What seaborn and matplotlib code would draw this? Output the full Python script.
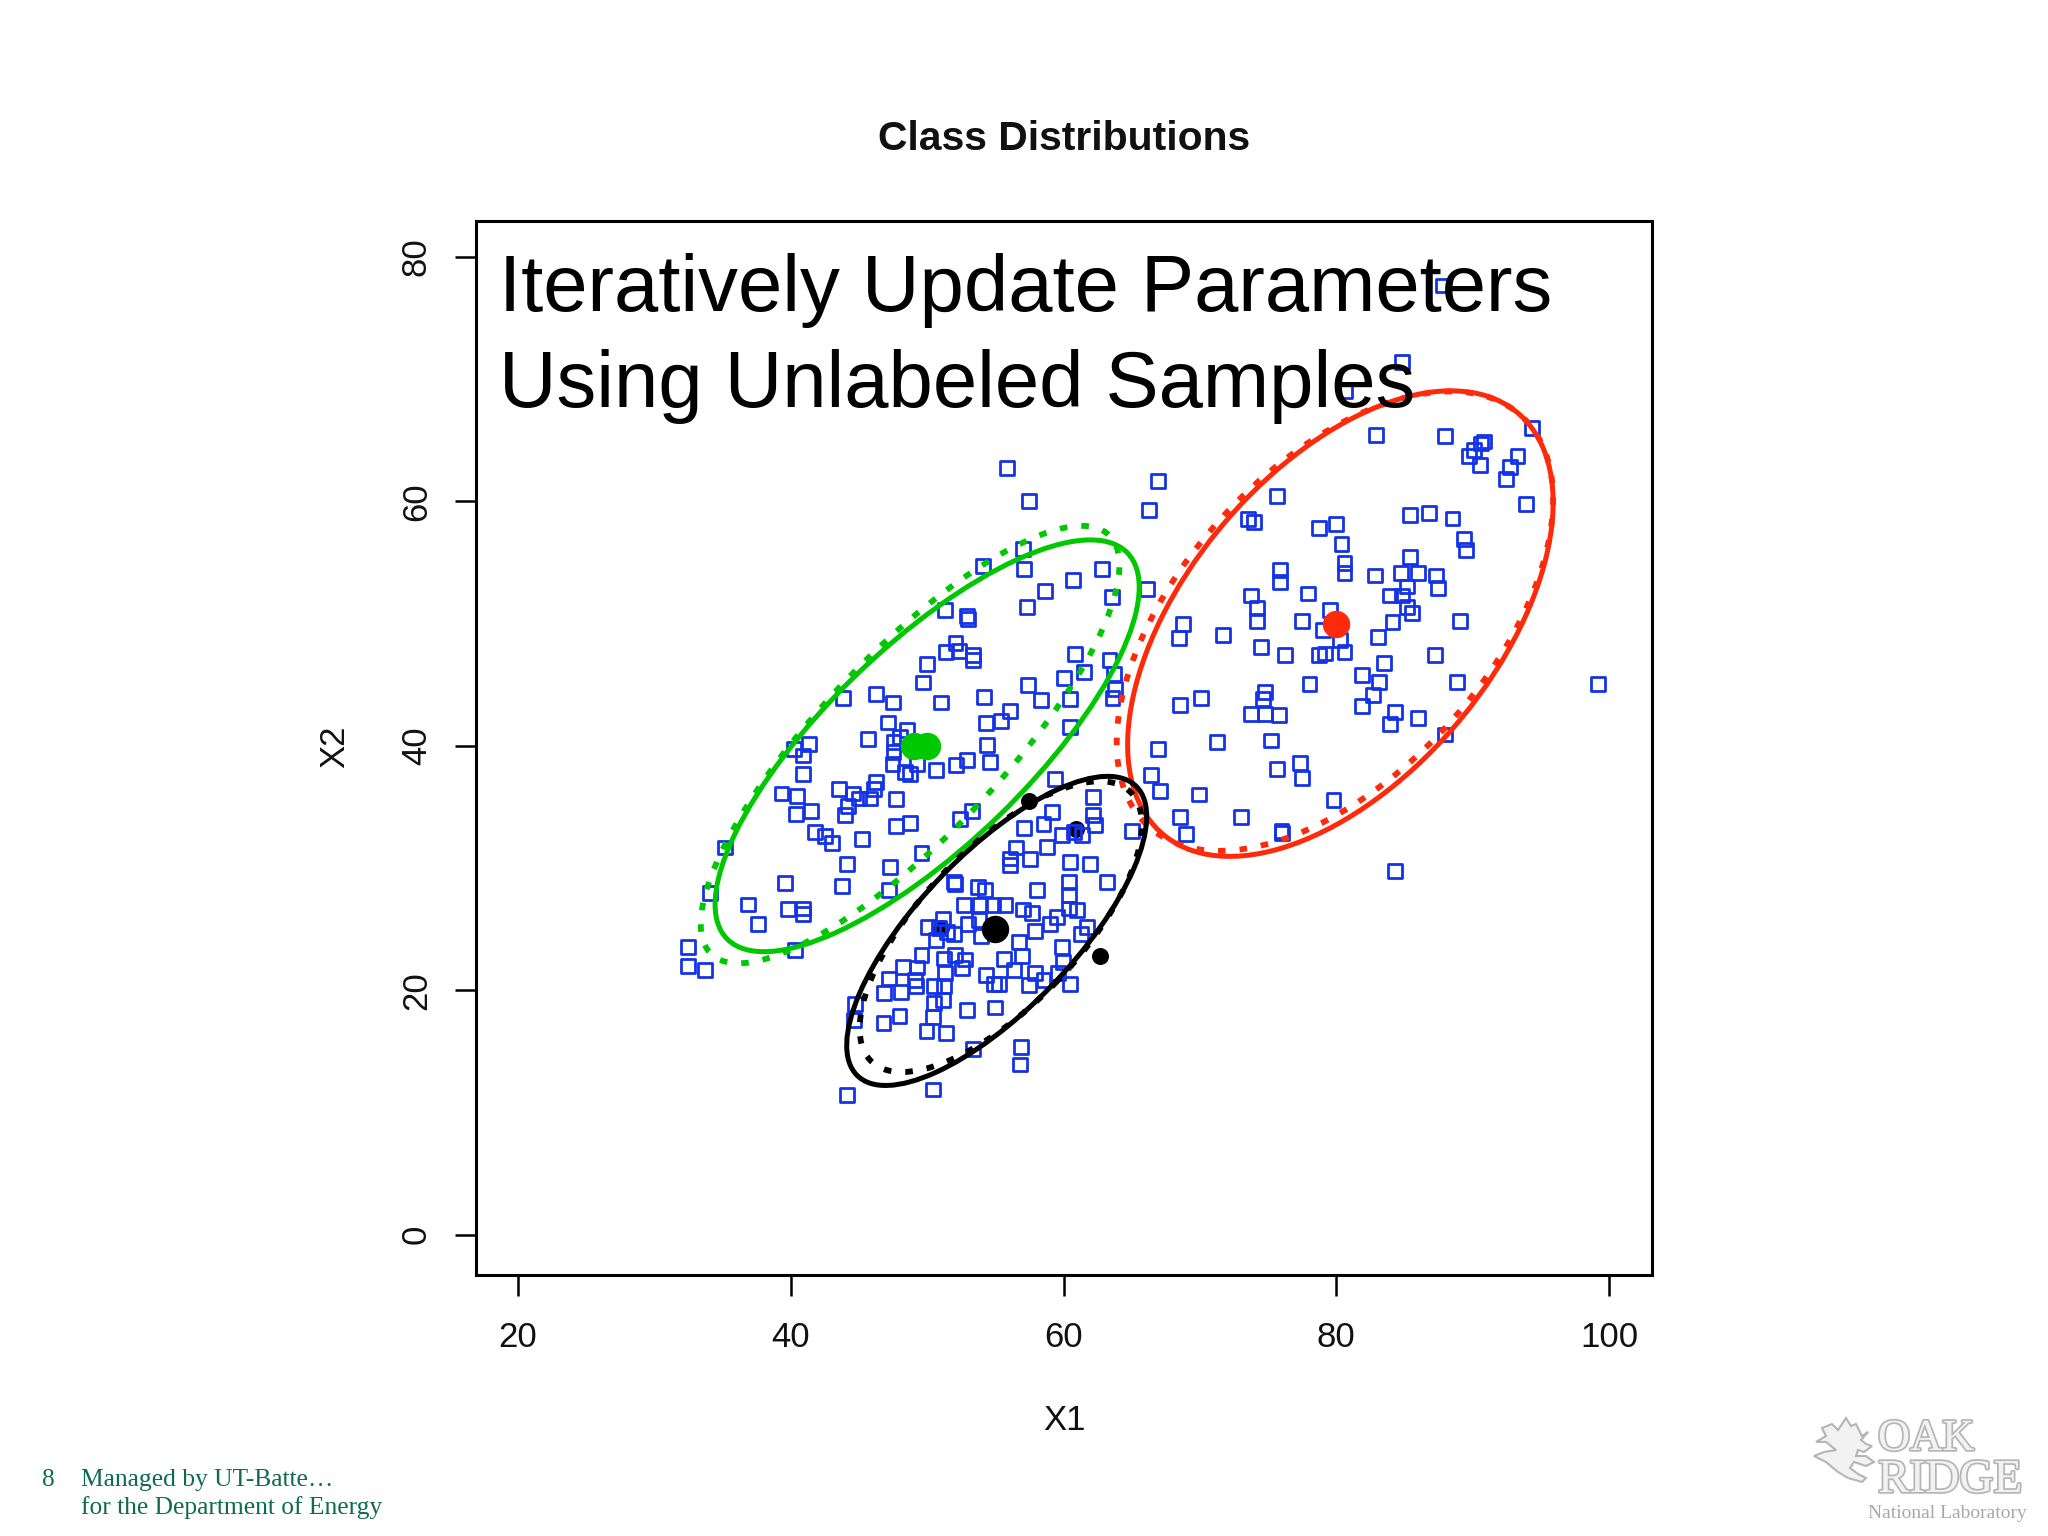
import matplotlib

matplotlib.use("Agg")
import matplotlib.patheffects as pe
import matplotlib.pyplot as plt
import matplotlib.transforms as transforms
import numpy as np
import seaborn as sns
from matplotlib.patches import Ellipse, Polygon

# unlabeled samples
sample_x = [
    55.86, 57.5, 66.91, 66.28, 57.0, 57.12, 54.07, 62.84, 60.68, 58.65, 63.56, 66.11, 57.32, 51.28, 52.93, 53.02,
    52.08, 51.4, 52.32, 53.34, 53.34, 49.98, 49.69, 60.87, 61.53, 63.37, 63.71, 60.01, 57.37, 58.36, 60.46, 63.78,
    63.59, 54.16, 51.04, 47.48, 46.27, 43.8, 56.1, 55.43, 54.31, 60.46, 47.12, 48.55, 45.64, 47.53, 48.01, 47.53,
    40.22, 41.31, 40.87, 54.36, 54.6, 52.9, 52.1, 50.65, 47.46, 48.38, 48.74, 49.23, 40.87, 66.91, 66.4, 67.08,
    59.4, 46.27, 46.08, 43.54, 44.58, 45.02, 45.78, 47.72, 44.17, 43.97, 39.32, 40.46, 40.41, 41.48, 41.79, 42.52,
    43.0, 45.23, 35.2, 47.72, 48.74, 53.32, 52.42, 49.59,
    44.14, 47.29, 39.56, 43.73, 47.21, 34.07, 36.89, 37.62, 39.8, 40.87, 40.87, 40.34, 32.49, 32.49, 33.7,
    62.13, 62.13, 62.33, 59.18, 58.53, 57.07, 59.86, 60.75, 61.36, 65.0, 58.77, 56.52, 57.51, 56.1, 56.1, 60.46,
    61.91, 63.17, 60.39, 60.39, 51.98, 52.05, 53.75, 54.24, 58.04, 52.71, 53.87, 54.84, 55.74, 57.0, 57.68, 60.39,
    60.99, 59.5, 59.01, 51.16, 53.02, 53.8, 50.08, 50.84, 51.45, 51.98, 57.92, 61.72, 61.28, 53.95, 50.65, 56.71,
    59.91, 49.59, 51.21, 52.05, 52.78, 55.62, 56.95, 59.98, 48.26, 49.23, 51.33, 52.54, 54.31, 56.35, 57.92, 59.62,
    47.2, 49.11, 54.91, 55.26, 57.49, 58.53, 60.46, 46.85, 48.06, 49.18, 50.48, 51.21, 51.16, 50.48, 44.7, 44.65,
    52.9, 54.96, 47.97, 46.8, 50.43, 49.95, 51.4, 53.34, 56.88, 56.78, 44.14, 50.43,
    87.84, 84.82, 80.68, 82.89, 87.96, 94.32, 90.85, 90.6, 90.1, 89.72, 90.55, 93.29, 92.74, 92.44, 93.92, 75.65,
    73.52, 73.94, 85.38, 86.83, 88.52, 89.35, 89.52, 78.74, 79.97, 80.38, 80.6, 80.6, 75.85, 75.85, 85.4, 82.81,
    84.75, 86.0, 87.29, 87.46, 85.2, 83.94, 84.82, 77.91, 73.77, 74.2, 74.2, 85.2, 85.58, 79.55, 77.49, 84.12,
    89.1, 79.05, 83.07, 80.3, 68.79, 68.49, 71.68, 74.47, 76.23, 78.74, 79.17, 80.6, 83.52, 87.26, 81.88, 83.12,
    88.84, 82.69, 78.04, 99.2, 74.77, 74.6, 70.05, 68.54, 81.88, 84.32, 83.94, 86.0, 73.77, 74.77, 75.83, 75.2,
    71.26, 87.96, 75.65, 77.36, 77.49, 69.92, 79.8, 68.57, 69.0, 73.02, 75.98, 76.03, 84.32,
]
sample_y = [
    62.76, 60.05, 61.68, 59.33, 56.14, 54.46, 54.7, 54.49, 53.57, 52.67, 52.16, 52.86, 51.37, 51.13, 50.64, 50.4,
    48.43, 47.64, 47.75, 47.42, 47.02, 46.69, 45.18, 47.51, 46.07, 47.02, 45.85, 45.53, 44.99, 43.78, 43.86, 44.68,
    43.92, 44.0, 43.54, 43.54, 44.22, 43.92, 42.86, 42.05, 41.89, 41.56, 41.91, 41.29, 40.53, 40.34, 40.75, 39.48,
    39.75, 40.15, 39.21, 40.07, 38.64, 38.86, 38.4, 38.05, 38.53, 37.86, 37.72, 38.53, 37.72, 39.75, 37.59, 36.31,
    37.26, 37.04, 36.5, 36.5, 36.1, 35.69, 35.69, 35.61, 35.07, 34.31, 36.1, 35.88, 34.44, 34.66, 32.95, 32.6,
    32.01, 32.36, 31.68, 33.44, 33.71, 34.63, 33.98, 31.19,
    30.29, 30.05, 28.77, 28.49, 28.17, 27.95, 27.01, 25.41, 26.63, 26.68, 26.27, 23.27, 23.54, 21.97, 21.64,
    35.82, 34.3, 33.49, 34.57, 33.63, 33.27, 32.68, 32.95, 32.68, 33.03, 31.73, 31.68, 30.7, 30.78, 30.24, 30.51,
    30.29, 28.85, 28.85, 27.76, 28.85, 28.66, 28.44, 28.22, 28.17, 26.95, 26.95, 26.95, 26.95, 26.6, 26.33, 26.68,
    26.54, 26.0, 25.41, 25.87, 25.41, 25.73, 25.19, 25.06, 24.75, 24.62, 24.87, 25.19, 24.62, 24.4, 24.08, 23.94,
    23.54, 22.86, 22.59, 22.86, 22.51, 22.53, 22.8, 22.32, 21.91, 21.86, 21.37, 21.78, 21.23, 21.64, 21.37, 21.37,
    20.96, 20.83, 20.5, 20.5, 20.42, 20.83, 20.5, 19.8, 19.88, 20.34, 20.34, 20.34, 19.17, 18.96, 18.85, 17.55,
    18.36, 18.58, 17.9, 17.33, 17.82, 16.66, 16.52, 15.17, 15.33, 13.92, 11.41, 11.87,
    77.67, 71.4, 69.04, 65.45, 65.32, 66.04, 64.9, 64.74, 64.19, 63.71, 62.99, 63.71, 62.8, 61.83, 59.76, 60.47,
    58.53, 58.3, 58.92, 59.08, 58.6, 56.92, 56.01, 57.79, 58.15, 56.49, 54.98, 54.11, 54.39, 53.43, 55.46, 53.94,
    54.17, 54.17, 53.94, 52.94, 53.04, 52.3, 52.3, 52.46, 52.3, 51.26, 50.23, 51.36, 50.85, 51.1, 50.23, 50.13,
    50.23, 49.47, 48.91, 48.65, 49.97, 48.82, 49.05, 48.09, 47.45, 47.45, 47.55, 47.65, 46.74, 47.45, 45.83, 45.21,
    45.21, 44.15, 45.09, 45.09, 44.41, 43.83, 43.93, 43.34, 43.25, 42.79, 41.82, 42.28, 42.63, 42.63, 42.53, 40.43,
    40.33, 40.92, 38.07, 38.59, 37.33, 36.01, 35.59, 34.19, 32.77, 34.19, 33.0, 32.83, 29.77,
]

# class means
mean_x = [80, 49, 50, 55]
mean_y = [50, 40, 40, 25]
mean_colors = ["#ff2a0a", "#00c800", "#00c800", "#000000"]

# labeled black points under the squares
labeled_x = [62.7, 60.9, 51.0, 57.5]
labeled_y = [22.8, 33.2, 25.1, 35.5]

# ellipses: center x, center y, half extent x, half extent y, correlation
class_colors = ["#ff2a0a", "#00c800", "#000000"]
solid_cx = [80.3, 50.0, 55.1]
solid_cy = [50.0, 40.0, 24.85]
solid_ax = [15.6, 15.55, 11.0]
solid_ay = [19.05, 16.85, 12.65]
solid_rho = [0.52, 0.77, 0.74]
dotted_cx = [79.9, 48.75, 55.4]
dotted_cy = [50.2, 40.1, 25.2]
dotted_ax = [16.0, 15.35, 10.35]
dotted_ay = [18.8, 17.9, 11.9]
dotted_rho = [0.53, 0.82, 0.70]

x_ticks = [20, 40, 60, 80, 100]
y_ticks = [0, 20, 40, 60, 80]

leaf_x = [1822, 1832, 1838, 1846, 1851, 1856, 1862, 1868, 1861, 1866, 1872, 1864, 1858, 1856, 1866, 1874, 1866,
          1854, 1850, 1858, 1866, 1862, 1848, 1838, 1826, 1814, 1824, 1836, 1826, 1816, 1826]
leaf_y = [1428, 1424, 1430, 1418, 1426, 1424, 1436, 1432, 1440, 1444, 1446, 1452, 1450, 1456, 1456, 1462, 1466,
          1462, 1468, 1474, 1478, 1482, 1478, 1472, 1462, 1456, 1452, 1450, 1442, 1442, 1436]

W, H = 2048, 1536


def add_cov_ellipse(ax, cx, cy, a, b, rho, **kw):
    # unit ellipse of the correlation, stretched to the class extents
    ell = Ellipse((0, 0), 2 * np.sqrt(1 + rho), 2 * np.sqrt(1 - rho), fill=False, **kw)
    tr = transforms.Affine2D().rotate_deg(45).scale(a, b).translate(cx, cy)
    ell.set_transform(tr + ax.transData)
    ax.add_patch(ell)


def fx(px):
    return px / W


def fy(py):
    return 1 - py / H


sns.set_theme(style="white")
plt.rcParams["font.family"] = ["Liberation Sans", "DejaVu Sans"]

fig = plt.figure(figsize=(20.48, 15.36), dpi=100, facecolor="white")
ax = fig.add_axes([fx(476), fy(1275), 1176 / W, 1054.5 / H])

sns.scatterplot(x=labeled_x, y=labeled_y, color="black", s=150, linewidth=0, ax=ax, zorder=2)
sns.scatterplot(
    x=sample_x, y=sample_y, marker="s", s=100, facecolor="none", edgecolor="#1433e6", linewidth=2.0, ax=ax, zorder=3,
)
for i, col in enumerate(class_colors):
    add_cov_ellipse(ax, solid_cx[i], solid_cy[i], solid_ax[i], solid_ay[i], solid_rho[i],
                    edgecolor=col, linewidth=3.6, zorder=4)
    add_cov_ellipse(ax, dotted_cx[i], dotted_cy[i], dotted_ax[i], dotted_ay[i], dotted_rho[i],
                    edgecolor=col, linewidth=4.2, linestyle=(0, (1.3, 2.4)), zorder=4)
for mx, my, col in zip(mean_x, mean_y, mean_colors):
    sns.scatterplot(x=[mx], y=[my], color=col, s=390, linewidth=0, ax=ax, zorder=5)

ax.set_xlim(16.92, 103.15)
ax.set_ylim(-3.31, 82.99)
ax.set_xticks(x_ticks)
ax.set_yticks(y_ticks)
ax.tick_params(axis="both", length=15, width=1.8, color="black", labelcolor="#111111", labelsize=25,
               bottom=True, left=True)
ax.tick_params(axis="x", pad=18)
ax.tick_params(axis="y", pad=16)
plt.setp(ax.get_yticklabels(), rotation=90, va="center")
for side in ax.spines.values():
    side.set_visible(True)
    side.set_color("black")
    side.set_linewidth(2.2)

fig.text(fx(1064), fy(139), "Class Distributions", ha="center", va="center", fontsize=29.4, fontweight="bold",
         color="#111111")
fig.text(fx(1064), fy(1420), "X1", ha="center", va="center", fontsize=25, color="#111111")
fig.text(fx(335), fy(747), "X2", ha="center", va="center", rotation=90, fontsize=25, color="#111111")

fig.text(fx(499), fy(310.5), "Iteratively Update Parameters", ha="left", va="baseline", fontsize=57.3, color="black",
         zorder=6)
fig.text(fx(499), fy(406.5), "Using Unlabeled Samples", ha="left", va="baseline", fontsize=57.3, color="black",
         zorder=6)

# footer
footer_green = "#0f6b4f"
fig.text(fx(42), fy(1486), "8", family="Liberation Serif", fontsize=18.4, color=footer_green)
fig.text(fx(81), fy(1486), "Managed by UT-Batte\u2026", family="Liberation Serif", fontsize=18.4, color=footer_green)
fig.text(fx(81), fy(1514), "for the Department of Energy", family="Liberation Serif", fontsize=18.4,
         color=footer_green)

# logo
shade = [pe.withStroke(linewidth=2.5, foreground="#b5b5b5")]
fig.text(fx(1878), fy(1450), "OAK", family="Liberation Serif", fontsize=32, color="#f2f2f2", path_effects=shade)
fig.text(fx(1878), fy(1492), "RIDGE", family="Liberation Serif", fontsize=34, color="#f2f2f2", path_effects=shade)
fig.text(fx(1868), fy(1518), "National Laboratory", family="Liberation Serif", fontsize=14, color="#a8a8a8")
leaf = Polygon(np.column_stack([fx(np.array(leaf_x)), fy(np.array(leaf_y))]), closed=True, transform=fig.transFigure,
               facecolor="#f2f2f2", edgecolor="#b5b5b5", linewidth=1.5)
fig.add_artist(leaf)

fig.savefig("out.png", dpi=100)
plt.close(fig)
